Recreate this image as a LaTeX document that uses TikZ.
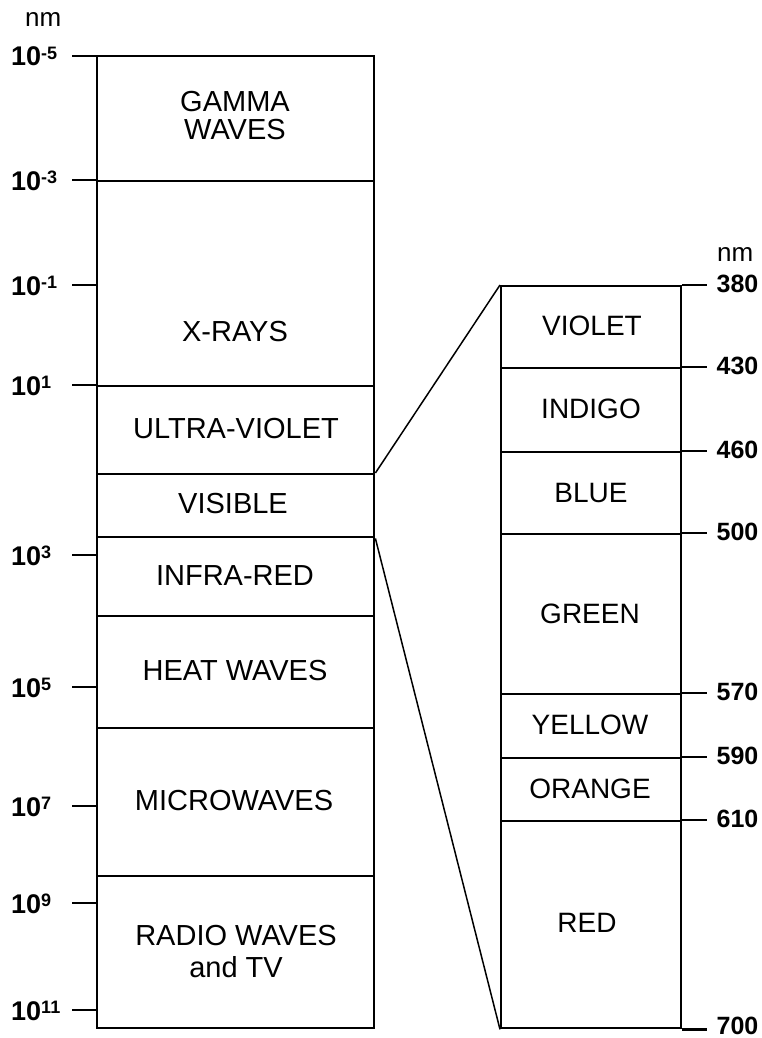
\documentclass[tikz,border=0pt]{standalone}
\usepackage{fontspec}
\setmainfont{Liberation Sans}
\newcommand\pwr[1]{10\raisebox{6.5pt}{\fontsize{18}{18}\selectfont #1}}
\begin{document}
\begin{tikzpicture}[x=1pt,y=-1pt,
  lband/.style={draw=black,line width=2.4pt,minimum width=277pt,inner sep=0pt,anchor=north west},
  rband/.style={draw=black,line width=2.4pt,minimum width=180pt,inner sep=0pt,anchor=north west},
  ltext/.style={font=\fontsize{29}{28}\selectfont,align=center,inner sep=0pt},
  rtext/.style={font=\fontsize{28}{28}\selectfont,inner sep=0pt},
  tick/.style={line width=2.4pt},
  conn/.style={line width=1.5pt},
  num/.style={font=\fontsize{25}{25}\selectfont\bfseries,inner sep=0pt},
  pw/.style={font=\fontsize{27}{27}\selectfont\bfseries,inner sep=0pt},
  unit/.style={font=\fontsize{26}{26}\selectfont,inner sep=0pt}]
\useasboundingbox (0,0) rectangle (762,1038);

% left column
\node[lband,minimum height=125pt] (gamma) at (96,55) {};
\node[lband,minimum height=205pt] (xray) at (96,180) {};
\node[lband,minimum height=88pt] (uv) at (96,385) {};
\node[lband,minimum height=63pt] (vis) at (96,473) {};
\node[lband,minimum height=79pt] (ir) at (96,536) {};
\node[lband,minimum height=112pt] (heat) at (96,615) {};
\node[lband,minimum height=148pt] (micro) at (96,727) {};
\node[lband,minimum height=152pt] (radio) at (96,875) {};

\node[ltext] (tgamma) at (235,116) {GAMMA\\WAVES};
\node[ltext] (txray) at (235,332) {X-RAYS};
\node[ltext] (tuv) at (236,429) {ULTRA-VIOLET};
\node[ltext] (tvis) at (233,504) {VISIBLE};
\node[ltext] (tir) at (235,576) {INFRA-RED};
\node[ltext] (theat) at (235,671) {HEAT WAVES};
\node[ltext] (tmicro) at (234,801) {MICROWAVES};
\node[ltext] (tradio) at (236,952) {RADIO WAVES\\[4pt]and TV};

\node[unit,anchor=base west] (lnm) at (25,27) {nm};
\foreach \y/\e/\n in {56/-5/a,180/-3/b,285/-1/c,385/1/d,555/3/e,687/5/f,806/7/g,903/9/h,1010/11/i}{
  \draw[tick] (72,\y) -- (96,\y);
  \node[pw,anchor=base west] (pw\n) at (11,\y+10) {\pwr{\e}};
}

% right column
\node[rband,minimum height=82pt] (violet) at (500,285) {};
\node[rband,minimum height=84pt] (indigo) at (500,367) {};
\node[rband,minimum height=82pt] (blue) at (500,451) {};
\node[rband,minimum height=160pt] (green) at (500,533) {};
\node[rband,minimum height=64pt] (yellow) at (500,693) {};
\node[rband,minimum height=63pt] (orange) at (500,757) {};
\node[rband,minimum height=207pt] (red) at (500,820) {};

\node[rtext] (tviolet) at (592,326) {VIOLET};
\node[rtext] (tindigo) at (591,409) {INDIGO};
\node[rtext] (tblue) at (591,493) {BLUE};
\node[rtext] (tgreen) at (590,614) {GREEN};
\node[rtext] (tyellow) at (590,725) {YELLOW};
\node[rtext] (torange) at (590,789) {ORANGE};
\node[rtext] (tred) at (587,923) {RED};

\node[unit,anchor=base west] (rnm) at (717,261) {nm};
\foreach \b/\v in {violet/380,indigo/430,blue/460,green/500,yellow/570,orange/590,red/610}{
  \draw[tick] (\b.north east) -- ++(25,0) node[num,anchor=west,xshift=8pt,yshift=1.5pt] (n\v) {\v};
}
\draw[tick] (red.south east) -- ++(25,0) node[num,anchor=west,xshift=8pt,yshift=4pt] (n700) {700};

% connectors
\draw[conn] (vis.north east) -- (violet.north west);
\draw[conn] (vis.south east) -- (red.south west);
\end{tikzpicture}
\end{document}
